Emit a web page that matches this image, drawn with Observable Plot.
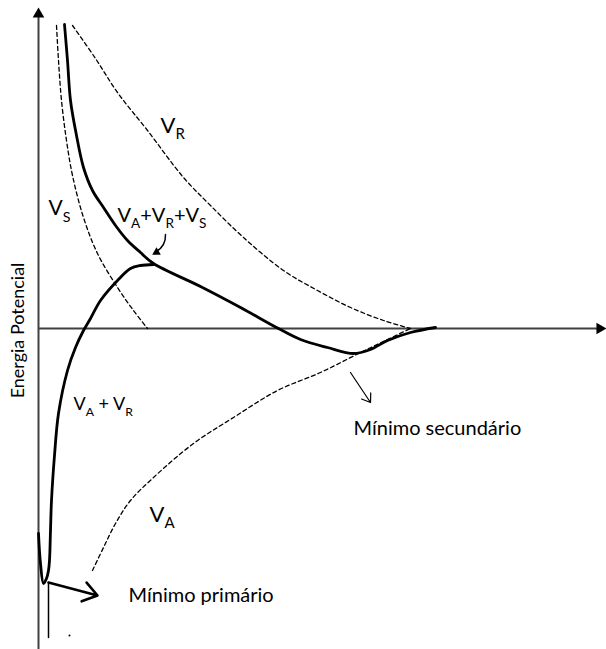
<!DOCTYPE html>
<html><head><meta charset="utf-8">
<script src="https://cdn.jsdelivr.net/npm/d3@7"></script>
<script src="https://cdn.jsdelivr.net/npm/@observablehq/plot@0.6"></script>
<style>body{margin:0;background:#fff}#chart{width:606px;height:649px}</style>
</head><body><div id="chart"></div>
<script>
// distance (x) vs potential energy (y), schematic units
const curveVR = [[34,303],[57,270],[79,236],[109,198],[145,151],[172,123],[205,91],[245,58],[279,38],[312,21],[345,8],[372,0]];
const curveVA = [[54,-242],[65,-219],[77,-195],[92,-172],[115,-149],[155,-115],[195,-89],[239,-62],[282,-44],[322,-24],[347,-12],[372,0]];
const curveVS = [[18,303],[20,268],[23,228],[28,188],[34,153],[45,111],[59,75],[79,41],[95,18],[109,0]];
const curveTotal = [[26,304],[29,268],[32,228],[38,193],[45,161],[54,138],[65,121],[77,103],[89,88],[102,76],[115,65],[162,42],[202,21],[240,0],[262,-11],[289,-19],[315,-25],[332,-21],[349,-12],[372,-4],[397,1]];
const curveVAVR = [[115,64],[102,63],[92,60],[79,48],[62,28],[52,10],[45,-2],[37,-19],[29,-42],[20,-85],[16,-127],[13,-172],[12,-202],[11,-232],[10,-242],[8,-250],[5,-255],[2,-235],[0,-205]];
const tailLine = [[10,-254],[10,-309]];
const strayDot = [[31,-307]];
const labelTexts = ["V_R","V_S","V_A+V_R+V_S","V_A + V_R","V_A","Mínimo primário","Mínimo secundário","Energia Potencial"];

const pts = a => a.map(([d, e]) => ({d, e}));
const xDomain = [-38, 568], yDomain = [-321, 328];
const axisColor = "#404040";
const solid = {x: "d", y: "e", stroke: "black", strokeWidth: 2.8, curve: "catmull-rom"};
const dashed = {x: "d", y: "e", stroke: "black", strokeWidth: 1.3, strokeDasharray: "4,3", curve: "catmull-rom"};
const font = "Lato, 'Open Sans', sans-serif";

const chart = Plot.plot({
  width: 606, height: 649, margin: 0,
  x: {domain: xDomain, axis: null},
  y: {domain: yDomain, axis: null},
  style: {fontFamily: font, background: "white", overflow: "visible"},
  marks: [
    Plot.ruleX([0], {y1: yDomain[0], y2: yDomain[1] - 12, stroke: axisColor, strokeWidth: 2}),
    Plot.ruleY([0], {x1: 0, x2: xDomain[1] - 6, stroke: axisColor, strokeWidth: 2}),
    Plot.dot([0], {x: 0, y: yDomain[1] - 13.7, symbol: "triangle", r: 4.3, fill: "black", stroke: null}),
    Plot.dot([0], {x: xDomain[1] - 6.7, y: 0, symbol: "triangle", r: 4.3, rotate: 90, fill: "black", stroke: null}),
    Plot.line(pts(curveVR), dashed),
    Plot.line(pts(curveVA), dashed),
    Plot.line(pts(curveVS), dashed),
    Plot.line(pts(curveTotal), solid),
    Plot.line(pts(curveVAVR), solid),
    Plot.line(pts(tailLine), {x: "d", y: "e", stroke: "black", strokeWidth: 1.5}),
    Plot.dot(pts(strayDot), {x: "d", y: "e", r: 1, fill: "black"}),
    Plot.arrow([0], {x1: 10, y1: -254, x2: 59, y2: -267, stroke: "black", strokeWidth: 2.6, headLength: 12, headAngle: 70}),
    Plot.arrow([0], {x1: 312, y1: -44, x2: 332, y2: -74, stroke: "black", strokeWidth: 1.2, headLength: 12, headAngle: 70}),
    Plot.arrow([0], {x1: 127, y1: 94, x2: 118, y2: 77, bend: 30, stroke: "black", strokeWidth: 1.5, headLength: 0}),
    Plot.dot([0], {x: 118, y: 76.3, symbol: "triangle", r: 3.2, rotate: 240, fill: "black", stroke: null}),
    Plot.text([labelTexts[0]], {x: 122, y: 203, text: d => d, fontSize: 22, textAnchor: "start", fill: "black"}),
    Plot.text([labelTexts[1]], {x: 10, y: 120, text: d => d, fontSize: 21, textAnchor: "start", fill: "black"}),
    Plot.text([labelTexts[2]], {x: 79, y: 113, text: d => d, fontSize: 20, textAnchor: "start", fill: "black"}),
    Plot.text([labelTexts[3]], {x: 35, y: -76, text: d => d, fontSize: 18, textAnchor: "start", fill: "black"}),
    Plot.text([labelTexts[4]], {x: 111, y: -186, text: d => d, fontSize: 22, textAnchor: "start", fill: "black"}),
    Plot.text([labelTexts[5]], {x: 90, y: -267, text: d => d, fontSize: 20, textAnchor: "start", fill: "black"}),
    Plot.text([labelTexts[6]], {x: 315, y: -100, text: d => d, fontSize: 20, textAnchor: "start", fill: "black"}),
    Plot.text([labelTexts[7]], {x: -20, y: -2, text: d => d, fontSize: 18, rotate: -90, textAnchor: "middle", fill: "black"})
  ]
});
document.getElementById("chart").appendChild(chart);

// render "_X" as subscripts
chart.querySelectorAll("text").forEach(t => {
  const s = t.textContent;
  if (!s.includes("_")) return;
  const fs = parseFloat(getComputedStyle(t).fontSize) || 20;
  const shift = 0.3 * fs;
  while (t.firstChild) t.removeChild(t.firstChild);
  const parts = s.split(/_(\w)/);
  let lowered = false;
  parts.forEach((p, i) => {
    if (!p) return;
    const ts = document.createElementNS("http://www.w3.org/2000/svg", "tspan");
    ts.textContent = p;
    if (i % 2 === 1) {
      ts.setAttribute("font-size", (0.68 * fs).toFixed(1));
      if (!lowered) { ts.setAttribute("dy", shift.toFixed(1)); lowered = true; }
    } else if (lowered) {
      ts.setAttribute("dy", (-shift).toFixed(1)); lowered = false;
    }
    t.appendChild(ts);
  });
});
</script>
</body></html>
